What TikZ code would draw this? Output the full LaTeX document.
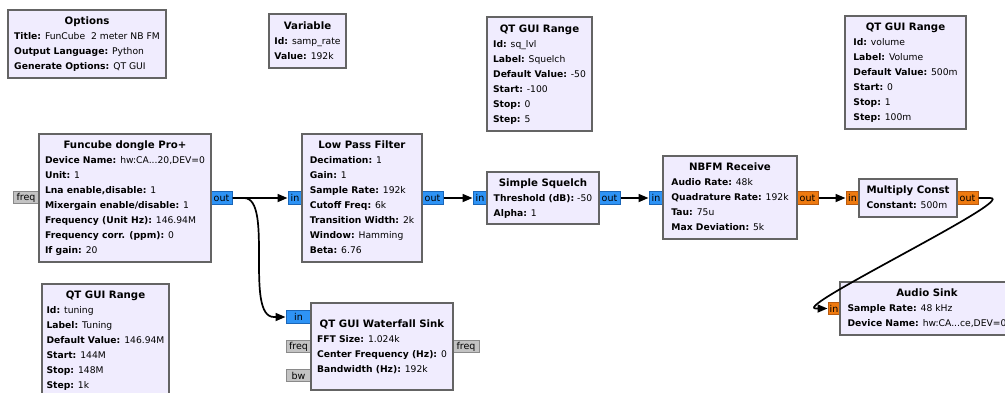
\documentclass[tikz,border=0pt]{standalone}
\usepackage{fontspec}
\setmainfont{DejaVu Sans}
\usetikzlibrary{arrows.meta}
\definecolor{blkfill}{HTML}{F0ECFE}
\definecolor{blkline}{HTML}{646464}
\definecolor{cplx}{HTML}{2E93F5}
\definecolor{cplxline}{HTML}{1A66B8}
\definecolor{flt}{HTML}{EE7A10}
\definecolor{fltline}{HTML}{B85A10}
\definecolor{msg}{HTML}{C3C3C3}
\definecolor{msgline}{HTML}{8A8A8A}
\newcommand\prmfont{\fontsize{9.2}{15}\selectfont}
\newcommand\ttlfont{\fontsize{10.2}{15}\selectfont\bfseries}
\newcommand\prm[2]{\textbf{#1:} #2}
\newcommand\grc[2]{\begin{tabular}{@{}l@{}}\multicolumn{1}{@{}c@{}}{\ttlfont #1}\\#2\end{tabular}}
\tikzset{
    blk/.style={draw=blkline, fill=blkfill, line width=1.5pt, inner sep=0pt, font=\prmfont},
    port/.style={line width=1pt, minimum height=12.5, inner sep=0pt, font=\fontsize{9.5}{11}\selectfont},
    cport/.style={port, draw=cplxline, fill=cplx},
    fport/.style={port, draw=fltline, fill=flt},
    mport/.style={port, draw=msgline, fill=msg},
    wire/.style={line width=1.7pt, -{Triangle[length=10pt,width=8pt]}},
}
\begin{document}
\begin{tikzpicture}[x=1pt, y=-1pt]
    \clip (0,0) rectangle (1005,392);
    \fill[white] (0,0) rectangle (1005,392);
    % ports
    \node[mport, minimum width=26] (fcd-freq) at (26,197.5) {freq};
    \node[cport, minimum width=21] (fcd-out) at (221.5,198) {out};
    \node[cport, minimum width=14] (lpf-in) at (295,198) {in};
    \node[cport, minimum width=21] (lpf-out) at (432.5,198) {out};
    \node[cport, minimum width=14] (sq-in) at (480,198) {in};
    \node[cport, minimum width=21] (sq-out) at (609.5,198) {out};
    \node[cport, minimum width=14] (nbfm-in) at (656,198) {in};
    \node[fport, minimum width=21] (nbfm-out) at (807.5,198) {out};
    \node[fport, minimum width=13] (mult-in) at (852.5,198) {in};
    \node[fport, minimum width=21] (mult-out) at (967.5,198) {out};
    \node[fport, minimum width=12] (snk-in) at (834,308.5) {in};
    \node[cport, minimum width=25] (wf-in) at (298.5,317) {in};
    \node[mport, minimum width=25] (wf-freq) at (298.5,346.5) {freq};
    \node[mport, minimum width=25] (wf-bw) at (298.5,375.5) {bw};
    \node[mport, minimum width=26] (wf-freqout) at (466,346.5) {freq};
    % blocks
    \node[blk, minimum width=158, minimum height=68] (opts) at (87,44)
        {\grc{Options}{\prm{Title}{FunCube\ \ 2 meter NB FM}\\\prm{Output Language}{Python}\\\prm{Generate Options}{QT GUI}}};
    \node[blk, minimum width=77, minimum height=54] (var) at (307.5,41)
        {\grc{Variable}{\prm{Id}{samp\_rate}\\\prm{Value}{192k}}};
    \node[blk, minimum width=105, minimum height=114] (sqlvl) at (539.5,74)
        {\grc{QT GUI Range}{\prm{Id}{sq\_lvl}\\\prm{Label}{Squelch}\\\prm{Default Value}{-50}\\\prm{Start}{-100}\\\prm{Stop}{0}\\\prm{Step}{5}}};
    \node[blk, minimum width=121, minimum height=113] (vol) at (905.5,72.5)
        {\grc{QT GUI Range}{\prm{Id}{volume}\\\prm{Label}{Volume}\\\prm{Default Value}{500m}\\\prm{Start}{0}\\\prm{Stop}{1}\\\prm{Step}{100m}}};
    \node[blk, minimum width=172, minimum height=128] (fcd) at (125,198)
        {\grc{Funcube dongle Pro+}{\prm{Device Name}{hw:CA...20,DEV=0}\\\prm{Unit}{1}\\\prm{Lna enable,disable}{1}\\\prm{Mixergain enable/disable}{1}\\\prm{Frequency (Unit Hz)}{146.94M}\\\prm{Frequency corr. (ppm)}{0}\\\prm{If gain}{20}}};
    \node[blk, minimum width=120, minimum height=128] (lpf) at (362,198)
        {\grc{Low Pass Filter}{\prm{Decimation}{1}\\\prm{Gain}{1}\\\prm{Sample Rate}{192k}\\\prm{Cutoff Freq}{6k}\\\prm{Transition Width}{2k}\\\prm{Window}{Hamming}\\\prm{Beta}{6.76}}};
    \node[blk, minimum width=112, minimum height=52] (sq) at (543,198)
        {\grc{Simple Squelch}{\prm{Threshold (dB)}{-50}\\\prm{Alpha}{1}}};
    \node[blk, minimum width=134, minimum height=83] (nbfm) at (730,197.5)
        {\grc{NBFM Receive}{\prm{Audio Rate}{48k}\\\prm{Quadrature Rate}{192k}\\\prm{Tau}{75u}\\\prm{Max Deviation}{5k}}};
    \node[blk, minimum width=98, minimum height=38] (mult) at (908,198)
        {\grc{Multiply Const}{\prm{Constant}{500m}}};
    \node[blk, minimum width=174, minimum height=53] (snk) at (927,308.5)
        {\grc{Audio Sink}{\prm{Sample Rate}{48 kHz}\\\prm{Device Name}{hw:CA...ce,DEV=0}}};
    \node[blk, minimum width=127, minimum height=113] (tun) at (105.5,340.5)
        {\grc{QT GUI Range}{\prm{Id}{tuning}\\\prm{Label}{Tuning}\\\prm{Default Value}{146.94M}\\\prm{Start}{144M}\\\prm{Stop}{148M}\\\prm{Step}{1k}}};
    \node[blk, minimum width=142, minimum height=87] (wf) at (382,346.5)
        {\grc{QT GUI Waterfall Sink}{\prm{FFT Size}{1.024k}\\\prm{Center Frequency (Hz)}{0}\\\prm{Bandwidth (Hz)}{192k}}};
    % connections
    \draw[wire] (fcd-out) -- (lpf-in);
    \draw[wire] (fcd-out.east) -- (244,198) .. controls (274,198) and (244,317) .. (274,317) -- (wf-in.west);
    \draw[wire] (lpf-out) -- (sq-in);
    \draw[wire] (sq-out) -- (nbfm-in);
    \draw[wire] (nbfm-out) -- (mult-in);
    \draw[wire] (mult-out.east) -- (990,198) .. controls (1020,198) and (790,308.5) .. (816,308.5) -- (snk-in.west);
\end{tikzpicture}
\end{document}
